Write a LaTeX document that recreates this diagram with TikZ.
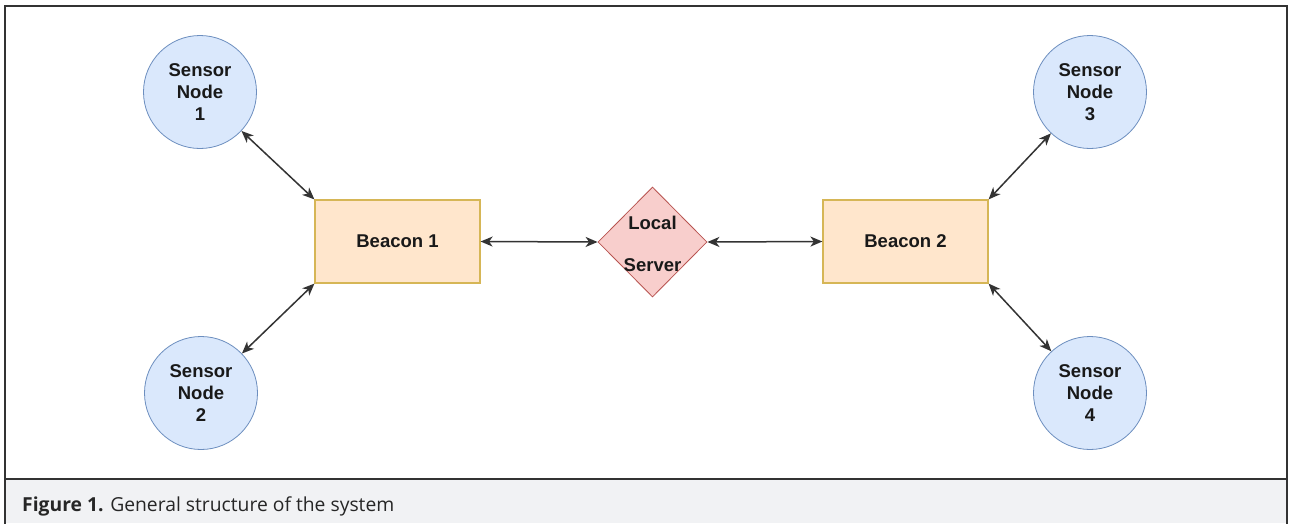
\documentclass[tikz,border=0pt]{standalone}
\usepackage{fontspec}
\setmainfont{Liberation Sans}
\newfontfamily\nodefont{Liberation Sans}
\newfontfamily\capfont{Open Sans}
\usetikzlibrary{shapes.geometric,arrows.meta}
\definecolor{frameC}{HTML}{333333}
\definecolor{capbg}{HTML}{F1F2F4}
\definecolor{sensFill}{HTML}{DAE8FC}
\definecolor{sensLine}{HTML}{6C8EBF}
\definecolor{beacFill}{HTML}{FFE6CC}
\definecolor{beacLine}{HTML}{D6B656}
\definecolor{srvFill}{HTML}{F8CECC}
\definecolor{srvLine}{HTML}{B85450}
\tikzset{
  nodetext/.style={font=\nodefont\fontsize{18.5}{22}\selectfont\bfseries, text=black!90},
  sensor/.style={circle, draw=sensLine, fill=sensFill, line width=0.8pt, minimum size=113pt, inner sep=0pt,
    align=center, nodetext},
  beacon/.style={rectangle, draw=beacLine, fill=beacFill, line width=1.2pt, minimum width=165pt, minimum height=83pt,
    inner sep=0pt, nodetext},
  server/.style={diamond, draw=srvLine, fill=srvFill, line width=0.8pt, minimum width=109pt, minimum height=110pt, inner sep=0pt},
  srvlabel/.style={align=center, inner sep=0pt, nodetext},
  conn/.style={line width=1.5pt, draw=black!80, {Stealth[length=12pt,width=10pt,inset=3.5pt]}-{Stealth[length=12pt,width=10pt,inset=3.5pt]}},
  framel/.style={draw=frameC, line width=1.5pt}
}
\begin{document}
\begin{tikzpicture}[x=1pt,y=-1pt]
\useasboundingbox (0,0) rectangle (1294,523);
\fill[white] (0,0) rectangle (1294,523);
% caption area
\fill[capbg] (5,479) rectangle (1287,523);
\draw[framel] (5,530) -- (5,6) -- (1287,6) -- (1287,530);
\draw[framel] (5,479) -- (1287,479);
% nodes
\node[sensor] (s1) at (200,92) {Sensor\\Node\\1};
\node[sensor] (s2) at (201,393) {Sensor\\Node\\2};
\node[sensor] (s3) at (1090,92) {Sensor\\Node\\3};
\node[sensor] (s4) at (1090,393) {Sensor\\Node\\4};
\node[beacon] (b1) at (397.5,241.5) {Beacon 1};
\node[beacon] (b2) at (905.5,241.5) {Beacon 2};
\node[server] (srv) at (652.5,242) {};
\node[srvlabel] (srvt) at (652.5,244) {Local\\[20pt]Server};
% connectors
\draw[conn] (s1) -- (b1.north west);
\draw[conn] (s2) -- (b1.south west);
\draw[conn] (b1.east) -- (srv.west);
\draw[conn] (srv.east) -- (b2.west);
\draw[conn] (s3) -- (b2.north east);
\draw[conn] (s4) -- (b2.south east);
% caption
\node[anchor=base west, inner sep=0pt, font=\capfont\fontsize{19.3}{22}\selectfont, text=black!85] (cap) at (22,511.5)
  {{\bfseries Figure 1.} General structure of the system};
\end{tikzpicture}
\end{document}
